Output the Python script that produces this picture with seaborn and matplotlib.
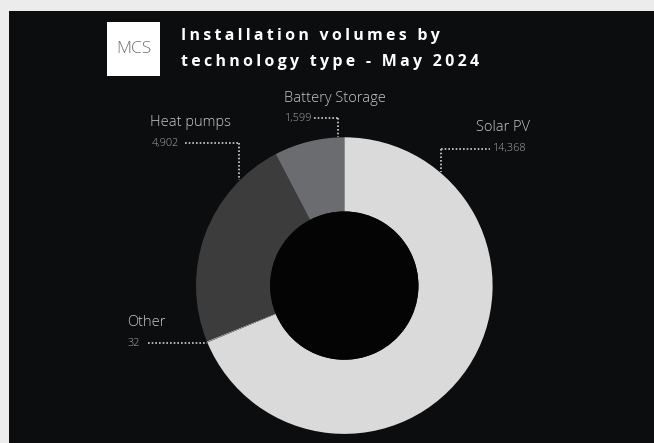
import matplotlib
matplotlib.use("Agg")
import matplotlib.pyplot as plt
import seaborn as sns
from matplotlib.patches import Rectangle, Circle

# ---- data ----
categories = ["Solar PV", "Other", "Heat pumps", "Battery Storage"]
values = [14368, 32, 4902, 1599]
value_labels = ["14,368", "32", "4,902", "1,599"]
slice_colors = ["#dadada", "#9a9a9a", "#3c3c3c", "#6b6c6f"]
title_lines = ["Installation volumes by", "technology type - May 2024"]

sns.set_theme(style="dark")
plt.rcParams['font.family'] = ['Open Sans', 'DejaVu Sans']

W, H = 654, 443
fig = plt.figure(figsize=(W / 100, H / 100), dpi=100, facecolor="#ececec")
ax = fig.add_axes([0, 0, 1, 1])

# donut
cx, cy, r = 344.3, H - 285.6, 148.3
ax.pie(values, colors=slice_colors, startangle=90, counterclock=False,
       radius=r, center=(cx, cy), frame=True,
       wedgeprops=dict(width=r * 0.5, edgecolor="none", linewidth=0))
ax.set_xlim(0, W)
ax.set_ylim(0, H)
ax.set_aspect("equal")
ax.axis("off")

# dark panel
ax.add_patch(Rectangle((9, 0), W - 9, H - 11, facecolor="#0c0d0f", edgecolor="none", zorder=0))
ax.add_patch(Circle((cx, cy), r * 0.5, facecolor="#040405", edgecolor="none", zorder=3))

renderer = fig.canvas.get_renderer()


def width_of(s, **kw):
    t = ax.text(0, 0, s, **kw)
    w = t.get_window_extent(renderer).width
    t.remove()
    return w


# title with wide tracking: pick font size and spacing jointly for both lines
targets = [266, 292]
best = None
for fs in [10.5, 11, 11.5, 12, 12.5]:
    for k in range(0, 5):
        sep = "\u200a" * k
        ws = [width_of(sep.join(s) if k else s, fontsize=fs, fontweight="bold") for s in title_lines]
        err = sum(abs(w - t) for w, t in zip(ws, targets))
        if best is None or err < best[0]:
            best = (err, fs, sep)
_, tfs, tsep = best
for i, line in enumerate(title_lines):
    ax.text(181, H - 36 - 26 * i, tsep.join(line) if tsep else line, color="white",
            fontsize=tfs, fontweight="bold", ha="left", va="center", zorder=5)

# logo
ax.add_patch(Rectangle((107, H - 76), 53, 54, facecolor="white", edgecolor="none", zorder=4))
ax.text(133.5, H - 49, "MCS", color="#6e6e6e", fontsize=12.5, ha="center", va="center",
        fontweight="light", zorder=5)

lab_c = "#c8c8c8"
num_c = "#ababab"
lab_fs = 10.5
num_fs = 7.8
dot = dict(color="#d0d0d0", linestyle=(0, (1, 1.2)), linewidth=1.2, zorder=6)

# Solar PV
ax.text(530, H - 127, categories[0], color=lab_c, fontsize=lab_fs, ha="right", va="center", fontweight="light")
ax.text(527, H - 148.5, value_labels[0], color=num_c, fontsize=num_fs, ha="right", va="center", fontweight="light")
ax.plot([441, 490], [H - 148.5, H - 148.5], **dot)
ax.plot([441, 441], [H - 148.5, H - 172], **dot)

# Battery Storage
ax.text(284, H - 98, categories[3], color=lab_c, fontsize=lab_fs, ha="left", va="center", fontweight="light")
ax.text(285, H - 118, value_labels[3], color=num_c, fontsize=num_fs, ha="left", va="center", fontweight="light")
ax.plot([314, 338], [H - 118, H - 118], **dot)
ax.plot([338, 338], [H - 118, H - 137], **dot)

# Heat pumps
ax.text(150, H - 122, categories[2], color=lab_c, fontsize=lab_fs, ha="left", va="center", fontweight="light")
ax.text(152, H - 143, value_labels[2], color=num_c, fontsize=num_fs, ha="left", va="center", fontweight="light")
ax.plot([185, 238.7], [H - 143, H - 143], **dot)
ax.plot([238.7, 238.7], [H - 143, H - 180], **dot)

# Other
ax.text(127, H - 323, categories[1], color=lab_c, fontsize=lab_fs, ha="left", va="center", fontweight="light")
ax.text(128, H - 343, value_labels[1], color=num_c, fontsize=num_fs, ha="left", va="center", fontweight="light")
ax.plot([148, 207], [H - 343, H - 343], **dot)

fig.savefig("out.png", dpi=100, facecolor=fig.get_facecolor())
